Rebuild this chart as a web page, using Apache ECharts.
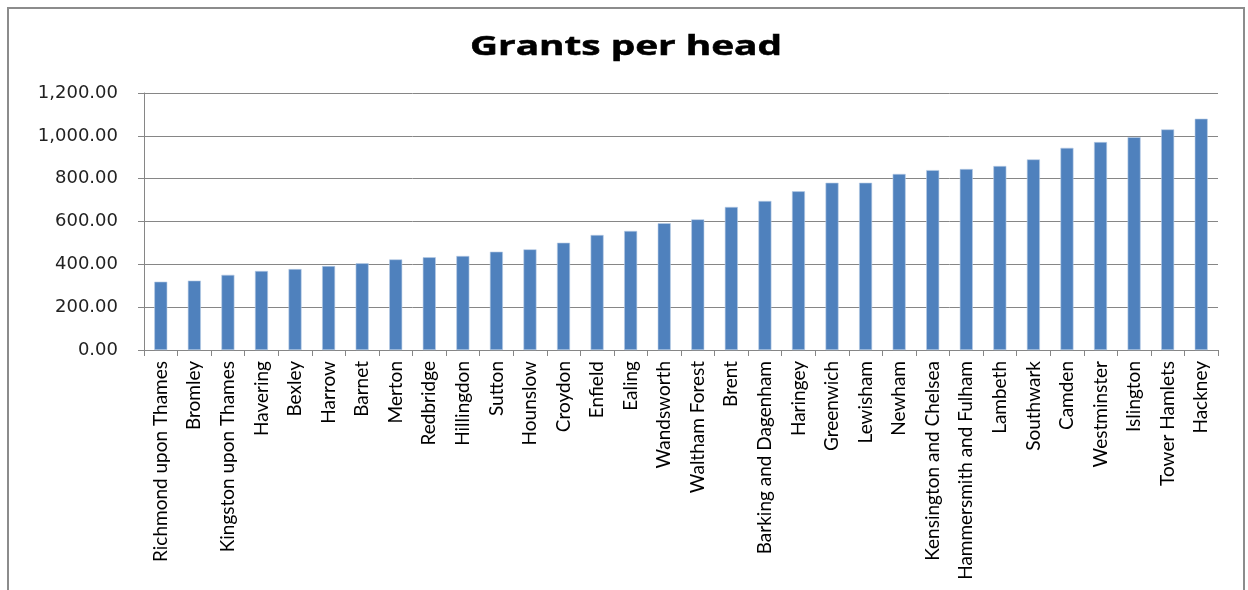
<!DOCTYPE html>
<html>
<head>
<meta charset="utf-8">
<script src="https://cdn.jsdelivr.net/npm/echarts@6/dist/echarts.min.js"></script>
<style>
  html, body { margin: 0; padding: 0; background: #fff; }
  #chart { width: 1248px; height: 590px; }
</style>
</head>
<body>
<div id="chart"></div>
<script>
// London boroughs, sorted by grant funding per resident
const boroughs = [
  'Richmond upon Thames', 'Bromley', 'Kingston upon Thames', 'Havering', 'Bexley',
  'Harrow', 'Barnet', 'Merton', 'Redbridge', 'Hillingdon', 'Sutton', 'Hounslow',
  'Croydon', 'Enfield', 'Ealing', 'Wandsworth', 'Waltham Forest', 'Brent',
  'Barking and Dagenham', 'Haringey', 'Greenwich', 'Lewisham', 'Newham',
  'Kensington and Chelsea', 'Hammersmith and Fulham', 'Lambeth', 'Southwark',
  'Camden', 'Westminster', 'Islington', 'Tower Hamlets', 'Hackney'
];
const grantsPerHead = [
  319, 324, 351, 369, 378, 392, 405, 423, 433, 439, 459, 470,
  501, 537, 556, 592, 610, 668, 696, 741, 781, 781, 822,
  840, 845, 859, 890, 944, 971, 994, 1030, 1080
];
const yMin = 0, yMax = 1200, yStep = 200;
const chartTitle = 'Grants per head';

const chart = echarts.init(document.getElementById('chart'), null, { renderer: 'canvas' });

chart.setOption({
  backgroundColor: '#ffffff',
  animation: false,
  graphic: [
    {
      // chart frame
      type: 'rect',
      shape: { x: 8, y: 8, width: 1236, height: 600 },
      style: { fill: 'none', stroke: '#8c8c8c', lineWidth: 2 },
      silent: true
    },
    {
      // wide bold heading
      type: 'text',
      x: 626, y: 35,
      scaleX: 1.49,
      style: {
        text: chartTitle,
        x: 0, y: 0,
        font: 'bold 26px "Open Sans", sans-serif',
        fill: '#000',
        stroke: '#000',
        lineWidth: 0.5,
        textAlign: 'center',
        textVerticalAlign: 'top'
      },
      silent: true
    }
  ],
  grid: { left: 144, right: 30, top: 93, bottom: 240, containLabel: false },
  xAxis: {
    type: 'category',
    data: boroughs,
    axisLine: { lineStyle: { color: '#868686', width: 1 } },
    axisTick: { show: true, alignWithLabel: false, length: 6, lineStyle: { color: '#868686' } },
    axisLabel: {
      interval: 0, rotate: 90, margin: 11,
      fontFamily: 'Lato, sans-serif', fontSize: 19, color: '#000'
    }
  },
  yAxis: {
    type: 'value',
    min: yMin, max: yMax, interval: yStep,
    axisLine: { show: true, lineStyle: { color: '#868686', width: 1 } },
    axisTick: { show: true, length: 6, lineStyle: { color: '#868686' } },
    splitLine: { show: true, lineStyle: { color: '#868686', width: 1 } },
    axisLabel: {
      margin: 26,
      fontFamily: '"DejaVu Sans", sans-serif', fontSize: 18, color: '#222',
      formatter: v => v.toLocaleString('en-US', { minimumFractionDigits: 2, maximumFractionDigits: 2 })
    }
  },
  series: [{
    type: 'bar',
    data: grantsPerHead,
    barWidth: 13,
    itemStyle: { color: '#4f81bd', borderColor: '#b9cde5', borderWidth: 0.6 }
  }]
});
</script>
</body>
</html>
